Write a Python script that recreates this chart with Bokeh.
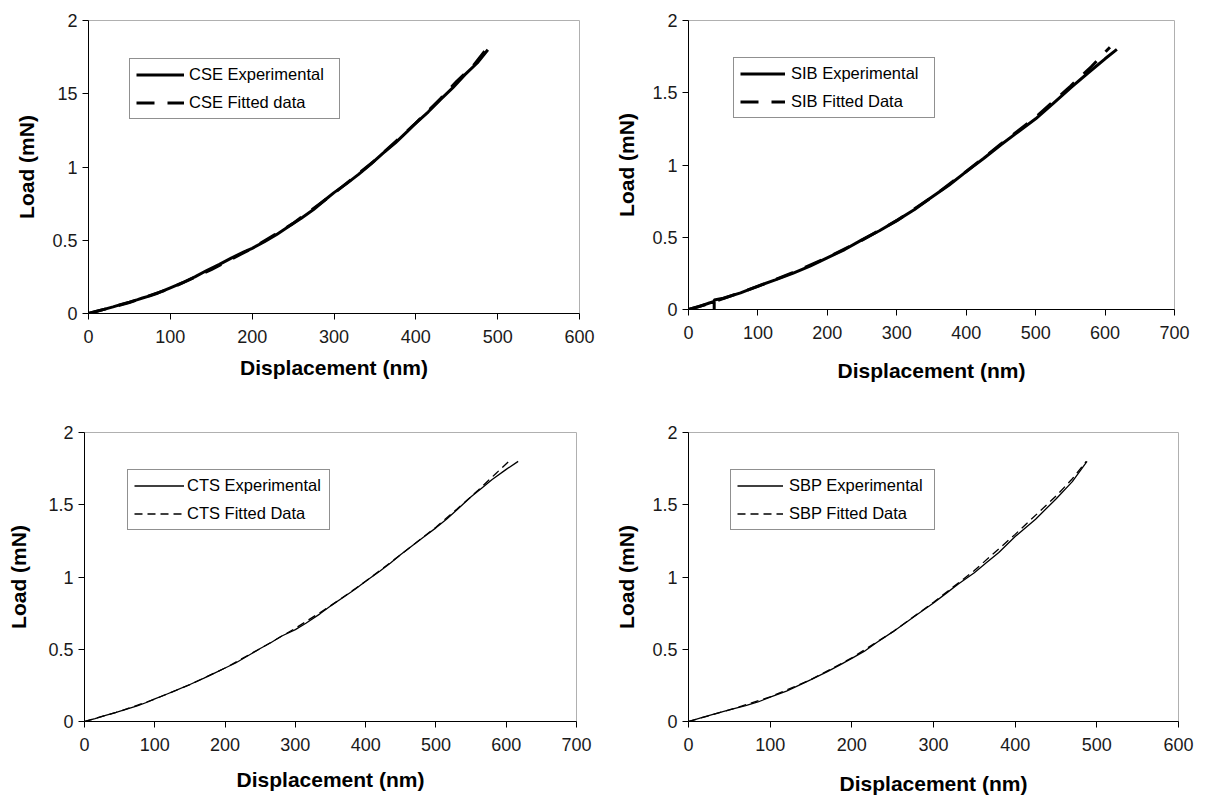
from bokeh.plotting import figure
from bokeh.models import Legend, LegendItem, FixedTicker, ColumnDataSource
from bokeh.layouts import row, column
from bokeh.embed import file_html
from bokeh.resources import INLINE

# ---------------- data ----------------
cse_exp_x = [0, 10, 20, 30, 40, 50, 60, 66, 75, 85, 100, 115, 130, 145, 160, 175, 190, 200, 215, 230,
             245, 260, 275, 290, 300, 315, 330, 345, 360, 375, 390, 400, 415, 430, 445, 460, 475, 488]
cse_exp_y = [0, 0.015, 0.03, 0.045, 0.062, 0.078, 0.095, 0.106, 0.12, 0.14, 0.175, 0.21, 0.25, 0.295,
             0.335, 0.38, 0.42, 0.445, 0.49, 0.54, 0.595, 0.65, 0.71, 0.78, 0.825, 0.885, 0.95, 1.02,
             1.095, 1.165, 1.245, 1.30, 1.375, 1.46, 1.54, 1.63, 1.71, 1.80]
cse_fit_x = [0, 50, 100, 150, 200, 250, 300, 350, 400, 430, 450, 470, 487]
cse_fit_y = [0, 0.075, 0.17, 0.30, 0.445, 0.615, 0.82, 1.045, 1.30, 1.465, 1.585, 1.69, 1.81]

sib_exp_x = [0, 15, 30, 37, 37, 37, 50, 75, 99, 125, 150, 175, 199, 225, 249, 275, 298, 325, 348, 375,
             400, 425, 450, 475, 500, 525, 552, 575, 600, 617]
sib_exp_y = [0, 0.02, 0.045, 0.055, 0.0, 0.066, 0.078, 0.115, 0.16, 0.205, 0.25, 0.30, 0.356, 0.415,
             0.48, 0.545, 0.61, 0.69, 0.77, 0.86, 0.954, 1.045, 1.14, 1.23, 1.32, 1.425, 1.54, 1.635,
             1.735, 1.80]
sib_fit_x = [0, 25, 50, 100, 150, 200, 250, 300, 350, 400, 450, 500, 550, 580, 607]
sib_fit_y = [0, 0.035, 0.075, 0.16, 0.255, 0.36, 0.48, 0.615, 0.775, 0.955, 1.145, 1.33, 1.545, 1.68, 1.815]

cts_exp_x = [0, 15, 30, 45, 60, 75, 90, 100, 115, 130, 150, 170, 185, 200, 215, 235, 250, 265, 280, 300,
             315, 335, 350, 370, 385, 400, 420, 435, 450, 470, 485, 500, 515, 530, 550, 565, 580, 600, 617]
cts_exp_y = [0, 0.02, 0.042, 0.063, 0.085, 0.108, 0.135, 0.157, 0.185, 0.215, 0.256, 0.30, 0.335, 0.37,
             0.405, 0.462, 0.505, 0.545, 0.59, 0.636, 0.68, 0.745, 0.80, 0.865, 0.915, 0.97, 1.04, 1.095,
             1.155, 1.23, 1.285, 1.34, 1.40, 1.465, 1.555, 1.615, 1.675, 1.745, 1.80]
cts_fit_x = [0, 50, 100, 150, 200, 250, 300, 350, 400, 450, 500, 530, 560, 585, 607]
cts_fit_y = [0, 0.07, 0.155, 0.255, 0.37, 0.505, 0.645, 0.80, 0.97, 1.155, 1.345, 1.47, 1.60, 1.715, 1.815]

sbp_exp_x = [0, 15, 30, 51, 70, 85, 100, 120, 135, 150, 170, 185, 201, 215, 230, 250, 265, 280, 300, 315,
             330, 350, 365, 380, 400, 425, 450, 470, 488]
sbp_exp_y = [0, 0.025, 0.05, 0.083, 0.11, 0.135, 0.168, 0.21, 0.25, 0.29, 0.345, 0.39, 0.44, 0.485, 0.545,
             0.62, 0.68, 0.74, 0.82, 0.885, 0.95, 1.03, 1.10, 1.17, 1.28, 1.40, 1.54, 1.66, 1.80]
sbp_fit_x = [0, 50, 100, 150, 200, 250, 300, 350, 400, 450, 470, 487]
sbp_fit_y = [0, 0.08, 0.17, 0.29, 0.44, 0.62, 0.825, 1.045, 1.295, 1.56, 1.68, 1.80]

y_ticks = [0, 0.5, 1, 1.5, 2]
y_labels_tl = ["0", "0.5", "1", "15", "2"]
y_labels = ["0", "0.5", "1", "1.5", "2"]

FONT = "Liberation Sans"


def panel(xmax, ex, ey, fx, fy, labels, ylabs, fw, fh, bl, br, bt, bb, lw, dash,
          leg_xy, glyph_w, leg_std, leg_label_w, x_std, y_std):
    p = figure(frame_width=fw, frame_height=fh, x_range=(0, xmax), y_range=(0, 2),
               output_backend="svg", toolbar_location=None,
               min_border_left=bl, min_border_right=br,
               min_border_top=bt, min_border_bottom=bb)
    p.xgrid.visible = False
    p.ygrid.visible = False
    p.outline_line_color = "#b0b0b0"
    p.outline_line_width = 1
    p.background_fill_color = "white"
    p.border_fill_color = "white"

    p.xaxis.ticker = FixedTicker(ticks=list(range(0, xmax + 1, 100)))
    p.yaxis.ticker = FixedTicker(ticks=y_ticks)
    p.yaxis.major_label_overrides = {t: l for t, l in zip(y_ticks, ylabs)}
    p.xaxis.axis_label = "Displacement (nm)"
    p.yaxis.axis_label = "Load (mN)"
    for ax in (p.xaxis, p.yaxis):
        ax.axis_line_color = "black"
        ax.axis_line_width = 1
        ax.major_tick_line_color = "black"
        ax.major_tick_out = 6
        ax.major_tick_in = 0
        ax.minor_tick_out = 0
        ax.minor_tick_in = 0
        ax.major_label_text_font = FONT
        ax.major_label_text_font_size = "18px"
        ax.major_label_text_color = "#1a1a1a"
        ax.axis_label_text_font = FONT
        ax.axis_label_text_font_size = "21px"
        ax.axis_label_text_font_style = "bold"
        ax.axis_label_text_color = "black"
    p.xaxis.major_label_standoff = 10
    p.yaxis.major_label_standoff = 5
    p.xaxis.axis_label_standoff = x_std
    p.yaxis.axis_label_standoff = y_std

    src_e = ColumnDataSource(dict(x=ex, y=ey))
    src_f = ColumnDataSource(dict(x=fx, y=fy))
    r_f = p.line("x", "y", source=src_f, line_color="black", line_width=lw, line_dash=dash)
    r_e = p.line("x", "y", source=src_e, line_color="black", line_width=lw)

    legend = Legend(items=[LegendItem(label=labels[0], renderers=[r_e]),
                           LegendItem(label=labels[1], renderers=[r_f])],
                    location=leg_xy, margin=0, padding=6, spacing=9,
                    glyph_width=glyph_w, glyph_height=17, label_height=17,
                    label_width=leg_label_w, label_standoff=leg_std,
                    label_text_font=FONT, label_text_font_size="16.5px",
                    label_text_color="black",
                    border_line_color="#222222", border_line_width=1.2,
                    background_fill_color="white", background_fill_alpha=1)
    p.add_layout(legend)
    return p


p1 = panel(600, cse_exp_x, cse_exp_y, cse_fit_x, cse_fit_y,
           ["CSE Experimental", "CSE Fitted data"], y_labels_tl,
           491, 293, 88, 29, 20, 87, 3, "18 13", (41, 194), 48, 5, 144, 10, 11)
p2 = panel(700, sib_exp_x, sib_exp_y, sib_fit_x, sib_fit_y,
           ["SIB Experimental", "SIB Fitted Data"], y_labels,
           486, 289, 80, 42, 17, 94, 3, "18 13", (45, 191), 45, 6, 137, 17, 11)
p3 = panel(700, cts_exp_x, cts_exp_y, cts_fit_x, cts_fit_y,
           ["CTS Experimental", "CTS Fitted Data"], y_labels,
           492, 289, 84, 32, 32, 75, 1.3, "8 5", (43, 191), 50, 3, 136, 14, 15)
p4 = panel(600, sbp_exp_x, sbp_exp_y, sbp_fit_x, sbp_fit_y,
           ["SBP Experimental", "SBP Fitted Data"], y_labels,
           490, 289, 80, 38, 32, 75, 1.3, "8 5", (42, 191), 46, 6, 139, 18, 11)

layout = column(row(p1, p2), row(p3, p4))
open("out.html", "w").write(file_html(layout, INLINE))
